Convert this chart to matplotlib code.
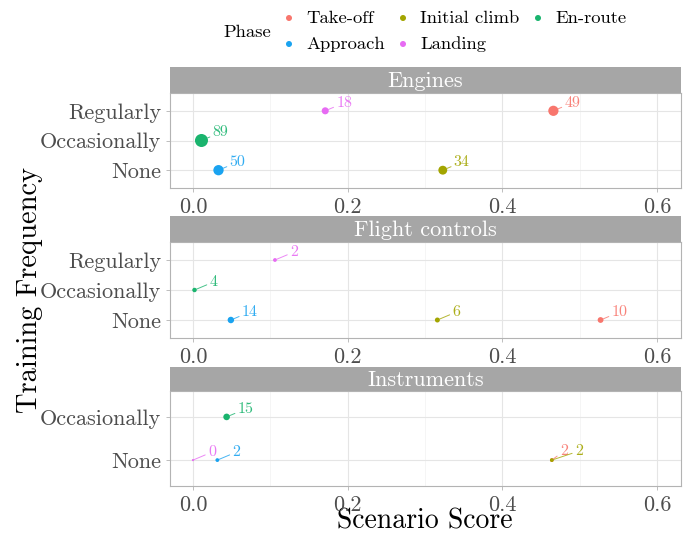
import matplotlib
matplotlib.use('Agg')
import matplotlib.pyplot as plt
import numpy as np

plt.rcParams['font.family'] = ['cmr10', 'DejaVu Serif']
plt.rcParams['axes.formatter.use_mathtext'] = True

# legend order (column-wise fill)
phases = ['Take-off', 'Approach', 'Initial climb', 'Landing', 'En-route']
phase_colors = ['#F8766D', '#1AA3F0', '#A3A500', '#E76BF3', '#1AB46E']

# Engines
eng_phase = ['Landing', 'Take-off', 'En-route', 'Approach', 'Initial climb']
eng_freq = ['Regularly', 'Regularly', 'Occasionally', 'None', 'None']
eng_score = [0.171, 0.466, 0.011, 0.033, 0.323]
eng_n = [18, 49, 89, 50, 34]

# Flight controls
fc_phase = ['Landing', 'En-route', 'Approach', 'Initial climb', 'Take-off']
fc_freq = ['Regularly', 'Occasionally', 'None', 'None', 'None']
fc_score = [0.106, 0.002, 0.049, 0.316, 0.527]
fc_n = [2, 4, 14, 6, 10]

# Instruments
ins_phase = ['En-route', 'Landing', 'Approach', 'Take-off', 'Initial climb']
ins_freq = ['Occasionally', 'None', 'None', 'None', 'None']
ins_score = [0.0435, 0.0, 0.0315, 0.464, 0.464]
ins_n = [15, 0, 2, 2, 2]

panels = [
    ('Engines', ['None', 'Occasionally', 'Regularly'], eng_phase, eng_freq, eng_score, eng_n),
    ('Flight controls', ['None', 'Occasionally', 'Regularly'], fc_phase, fc_freq, fc_score, fc_n),
    ('Instruments', ['None', 'Occasionally'], ins_phase, ins_freq, ins_score, ins_n),
]

color_of = dict(zip(phases, phase_colors))
n_max = 89
W, H = 689, 535
DPI = 100


def diam_px(n):
    # ggplot-like area scale, range 1..6
    return 2.17 * (1 + 5 * np.sqrt(n / n_max))


# label offsets in pixels (text centre relative to point)
special_offsets = {('Instruments', 'Take-off'): (12, 9),
                   ('Instruments', 'Initial climb'): (27, 9)}

fig = plt.figure(figsize=(W / DPI, H / DPI), dpi=DPI)

# overlay in pixel coords for legend / titles
ov = fig.add_axes([0, 0, 1, 1])
ov.set_xlim(0, W)
ov.set_ylim(H, 0)
ov.axis('off')

left, right = 170 / W, 681 / W
# (strip top, panel top, panel bottom) in pixels
boxes = [(67, 93, 188), (216, 242, 338), (367, 391, 486)]

grid_col = '#E5E5E5'
for (title, levels, ph, fr, sc, nn), (st, pt, pb) in zip(panels, boxes):
    ax = fig.add_axes([left, 1 - pb / H, right - left, (pb - pt) / H])
    sax = fig.add_axes([left, 1 - pt / H, right - left, (pt - st) / H])
    sax.set_facecolor('#A6A6A6')
    sax.set_xticks([])
    sax.set_yticks([])
    for s in sax.spines.values():
        s.set_visible(False)
    sax.text(0.5, 0.45, title, color='white', fontsize=16, ha='center', va='center',
             transform=sax.transAxes)

    ax.set_xlim(-0.0297, 0.631)
    ax.set_ylim(0.4, len(levels) + 0.6)
    ax.set_xticks([0.0, 0.2, 0.4, 0.6])
    ax.set_xticklabels(['0.0', '0.2', '0.4', '0.6'])
    ax.set_xticks([0.1, 0.3, 0.5], minor=True)
    ax.set_yticks(range(1, len(levels) + 1))
    ax.set_yticklabels(levels)
    ax.tick_params(axis='both', which='major', labelsize=16, labelcolor='#4D4D4D',
                   color='#B3B3B3', length=3, width=0.6)
    ax.tick_params(axis='both', which='minor', length=0)
    ax.grid(True, which='major', color=grid_col, lw=0.8, zorder=0)
    ax.grid(True, which='minor', axis='x', color='#F2F2F2', lw=0.5, zorder=0)
    ax.set_axisbelow(True)
    for s in ax.spines.values():
        s.set_color('#B3B3B3')
        s.set_linewidth(0.8)

    for p, f, x, n in zip(ph, fr, sc, nn):
        y = levels.index(f) + 1
        c = color_of[p]
        d = diam_px(n)
        ax.scatter([x], [y], s=(d * 0.72) ** 2, color=c, edgecolors='none', zorder=3)
        dx, dy = special_offsets.get((title, p), (19, 8))
        ax.annotate(str(n), xy=(x, y), xytext=(dx, dy), textcoords='offset pixels',
                    ha='center', va='center', fontsize=11.5, color=c, alpha=0.9,
                    arrowprops=dict(arrowstyle='-', color=c, lw=0.7, alpha=0.8,
                                    shrinkA=0, shrinkB=d * 0.36),
                    zorder=4)

ov.text(425, 521, 'Scenario Score', fontsize=20, ha='center', va='center')
ov.text(30, 290, 'Training Frequency', fontsize=20.5, rotation=90,
        ha='center', va='center')

# legend: title on the left, entries filled column-wise
ov.text(247, 32, 'Phase', fontsize=13.4, ha='center', va='center')
col_x = [289, 403, 538]
row_y = [18, 44]
for i, (lab, c) in enumerate(zip(phases, phase_colors)):
    cx = col_x[i // 2]
    cy = row_y[i % 2]
    ov.scatter([cx], [cy], s=(6 * 0.72) ** 2, color=c, edgecolors='none')
    ov.text(cx + 17, cy, lab, fontsize=13.4, ha='left', va='center')

fig.savefig('out.png', dpi=DPI)
